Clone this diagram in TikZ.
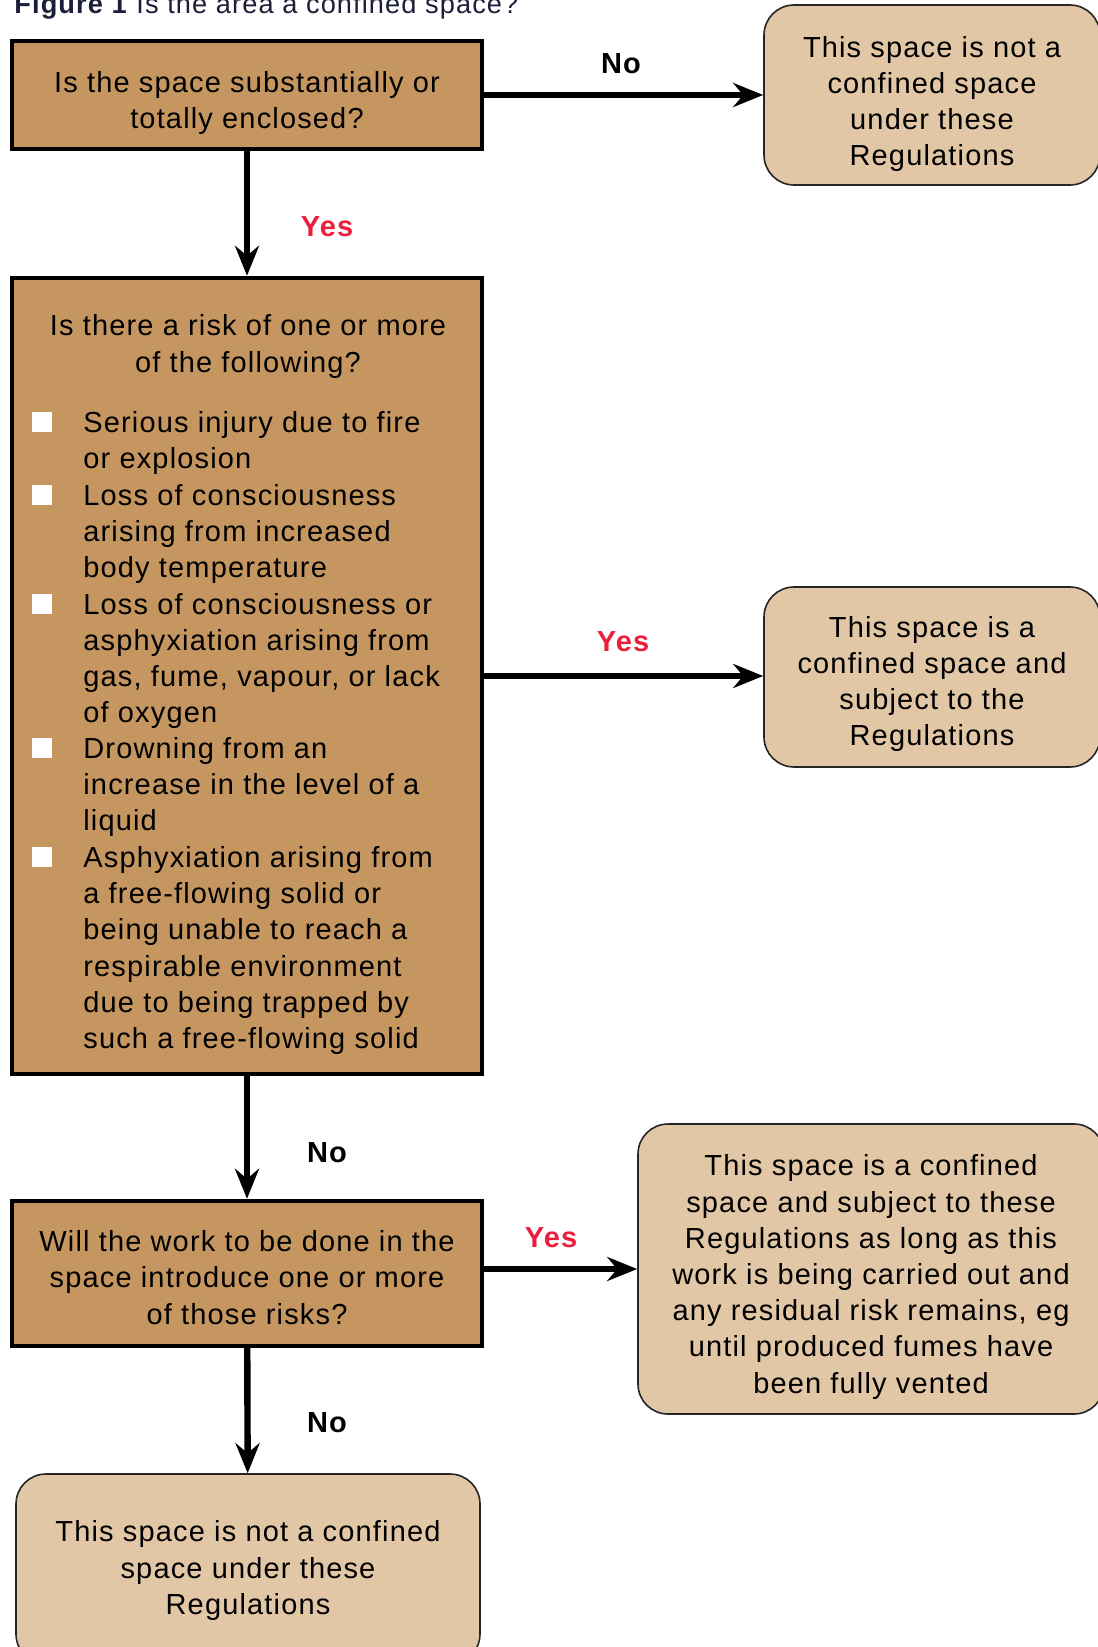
\documentclass[tikz,border=0pt]{standalone}
\usepackage{fontspec}
\setmainfont{Liberation Sans}[LetterSpace=4]
\usetikzlibrary{arrows.meta}

\definecolor{qtan}{RGB}{197,150,96}
\definecolor{rtan}{RGB}{225,199,165}
\definecolor{yesred}{RGB}{236,30,62}
\definecolor{titleblue}{RGB}{28,30,58}
\newcommand{\bodyfont}{\fontsize{14.5}{18.1}\selectfont}

\tikzset{
  question/.style={draw=black, line width=2.2pt, fill=qtan, inner sep=0pt},
  result/.style={draw=black!85, line width=0.8pt, fill=rtan, rounded corners=15pt, inner sep=0pt},
  boxtext/.style={align=center, inner sep=0pt},
  flow/.style={line width=3.2pt, -{Stealth[length=15pt,width=12pt,inset=5pt]}},
  yeslabel/.style={font=\bodyfont\bfseries, text=yesred},
  nolabel/.style={font=\bodyfont\bfseries},
  tick/.style={fill=white, minimum size=10pt, inner sep=0pt, anchor=south west},
  item/.style={anchor=base west, inner sep=0pt}
}

\begin{document}
\begin{tikzpicture}[x=0.5pt, y=-0.5pt, every node/.style={font=\bodyfont}]
\fill[white] (0,0) rectangle (1097,1647);
\useasboundingbox (0,0) rectangle (1097,1647);

\node[anchor=base west, inner sep=0pt, text=titleblue, font=\fontsize{13.6}{16}\selectfont] (title) at (14,14) {\textbf{Figure 1} Is the area a confined space?};

% questions down the left
\node[question, minimum width=235pt, minimum height=54pt] (enclosed) at (247,95) {};
\node[question, minimum width=235pt, minimum height=398pt] (risks) at (247,676) {};
\node[question, minimum width=235pt, minimum height=72.5pt] (work) at (247,1273.5) {};
\node[boxtext] (enclosedtext) at (247,103) {Is the space substantially or\\totally enclosed?};
\node[boxtext] (worktext) at (247,1277.5) {Will the work to be done in the\\space introduce one or more\\of those risks?};

% contents of the risk box
\node[boxtext] (riskhead) at (248,346.5) {Is there a risk of one or more\\of the following?};
\node[tick] (tick1) at (32,432) {};
\node[tick] (tick2) at (32,505) {};
\node[tick] (tick3) at (32,614) {};
\node[tick] (tick4) at (32,758) {};
\node[tick] (tick5) at (32,867.5) {};
\node[item] (fire) at (83,432) {\parbox[t]{200pt}{\raggedright Serious injury due to fire\\or explosion}};
\node[item] (heat) at (83,505) {\parbox[t]{200pt}{\raggedright Loss of consciousness\\arising from increased\\body temperature}};
\node[item] (gas) at (83,614) {\parbox[t]{200pt}{\raggedright Loss of consciousness or\\asphyxiation arising from\\gas, fume, vapour, or lack\\of oxygen}};
\node[item] (drown) at (83,758) {\parbox[t]{200pt}{\raggedright Drowning from an\\increase in the level of a\\liquid}};
\node[item] (solid) at (83,867.5) {\parbox[t]{200pt}{\raggedright Asphyxiation arising from\\a free-flowing solid or\\being unable to reach a\\respirable environment\\due to being trapped by\\such a free-flowing solid}};

% outcomes
\node[result, minimum width=168pt, minimum height=90pt] (notcs) at (932,95) {};
\node[result, minimum width=168pt, minimum height=90pt] (iscs) at (932,677) {};
\node[result, minimum width=233pt, minimum height=145pt] (whilework) at (871,1269) {};
\node[result, minimum width=232pt, minimum height=95pt] (notcsend) at (248,1569) {};
\node[boxtext] (notcstext) at (932,104) {This space is not a\\confined space\\under these\\Regulations};
\node[boxtext] (iscstext) at (932,684) {This space is a\\confined space and\\subject to the\\Regulations};
\node[boxtext] (whileworktext) at (871,1277) {This space is a confined\\space and subject to these\\Regulations as long as this\\work is being carried out and\\any residual risk remains, eg\\until produced fumes have\\been fully vented};
\node[boxtext] (notcsendtext) at (248,1570.5) {This space is not a confined\\space under these\\Regulations};

% connectors
\draw[flow] (enclosed.east) -- (notcs.west);
\draw[flow] (enclosed) -- (risks);
\draw[flow] (risks.east) -- (risks.east -| iscs.west);
\draw[flow] (risks) -- (work);
\draw[flow] (whilework.west -| work.east) -- (whilework.west);
\draw[flow] (work) -- (notcsend);

\node[nolabel] (no1) at (621,64) {No};
\node[yeslabel] (yes1) at (327,227) {Yes};
\node[yeslabel] (yes2) at (623,642) {Yes};
\node[nolabel] (no2) at (327,1153) {No};
\node[yeslabel] (yes3) at (551,1238) {Yes};
\node[nolabel] (no3) at (327,1423) {No};
\end{tikzpicture}
\end{document}
